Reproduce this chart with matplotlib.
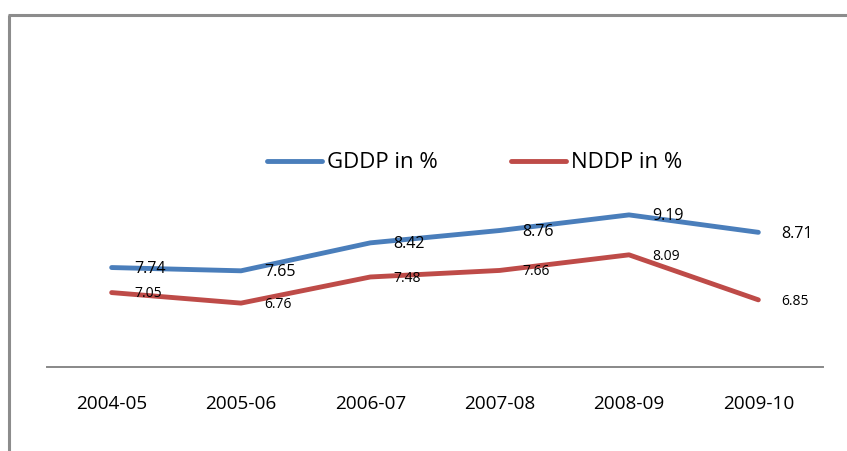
import matplotlib
matplotlib.use("Agg")
import matplotlib.pyplot as plt
from matplotlib.lines import Line2D

plt.rcParams['font.family'] = ['Open Sans', 'DejaVu Sans']

categories = ["2004-05", "2005-06", "2006-07", "2007-08", "2008-09", "2009-10"]
gddp = [7.74, 7.65, 8.42, 8.76, 9.19, 8.71]
nddp = [7.05, 6.76, 7.48, 7.66, 8.09, 6.85]

W, H = 847, 451
fig = plt.figure(figsize=(W / 100, H / 100), dpi=100)
fig.patch.set_facecolor("white")

# plot area
left_px, right_px = 47, 823
bottom_px, top_px = 367, 185.5
ax = fig.add_axes([left_px / W, 1 - bottom_px / H,
                   (right_px - left_px) / W, (bottom_px - top_px) / H])

blue = "#4A7EBB"
red = "#BE4B48"
x = list(range(len(categories)))
ax.plot(x, gddp, color=blue, lw=3.5, solid_capstyle="round", label="GDDP in %")
ax.plot(x, nddp, color=red, lw=3.5, solid_capstyle="round", label="NDDP in %")

for xi, v in zip(x, gddp):
    ax.annotate(f"{v:.2f}", (xi, v), xytext=(16.6, -1.0), textcoords="offset points",
                ha="left", va="center", fontsize=11.5, color="black")
for xi, v in zip(x, nddp):
    ax.annotate(f"{v:.2f}", (xi, v), xytext=(16.6, -1.0), textcoords="offset points",
                ha="left", va="center", fontsize=10, color="black")

ax.set_xlim(-0.5, len(categories) - 0.5)
ax.set_ylim(5, 10)
ax.set_xticks(x)
ax.set_xticklabels(categories, fontsize=13.7)
ax.tick_params(axis="x", length=0, pad=20)
ax.set_yticks([])
for s in ["top", "left", "right"]:
    ax.spines[s].set_visible(False)
ax.spines["bottom"].set_color("#888888")
ax.spines["bottom"].set_linewidth(1.4)
ax.patch.set_alpha(0)

leg = fig.legend(loc="center", bbox_to_anchor=(474.5 / W, 1 - 163 / H), ncol=2,
                 frameon=False, fontsize=16, handlelength=2.5, handletextpad=0.2,
                 columnspacing=3.3)

# chart border (left and top edges visible)
fig.add_artist(Line2D([9 / W, 9 / W], [0, 1 - 15 / H], transform=fig.transFigure,
                      color="#8c8c8c", lw=2.2, solid_capstyle="butt"))
fig.add_artist(Line2D([8 / W, 1], [1 - 15 / H, 1 - 15 / H], transform=fig.transFigure,
                      color="#8c8c8c", lw=2.2, solid_capstyle="butt"))

fig.savefig("out.png", dpi=100)
